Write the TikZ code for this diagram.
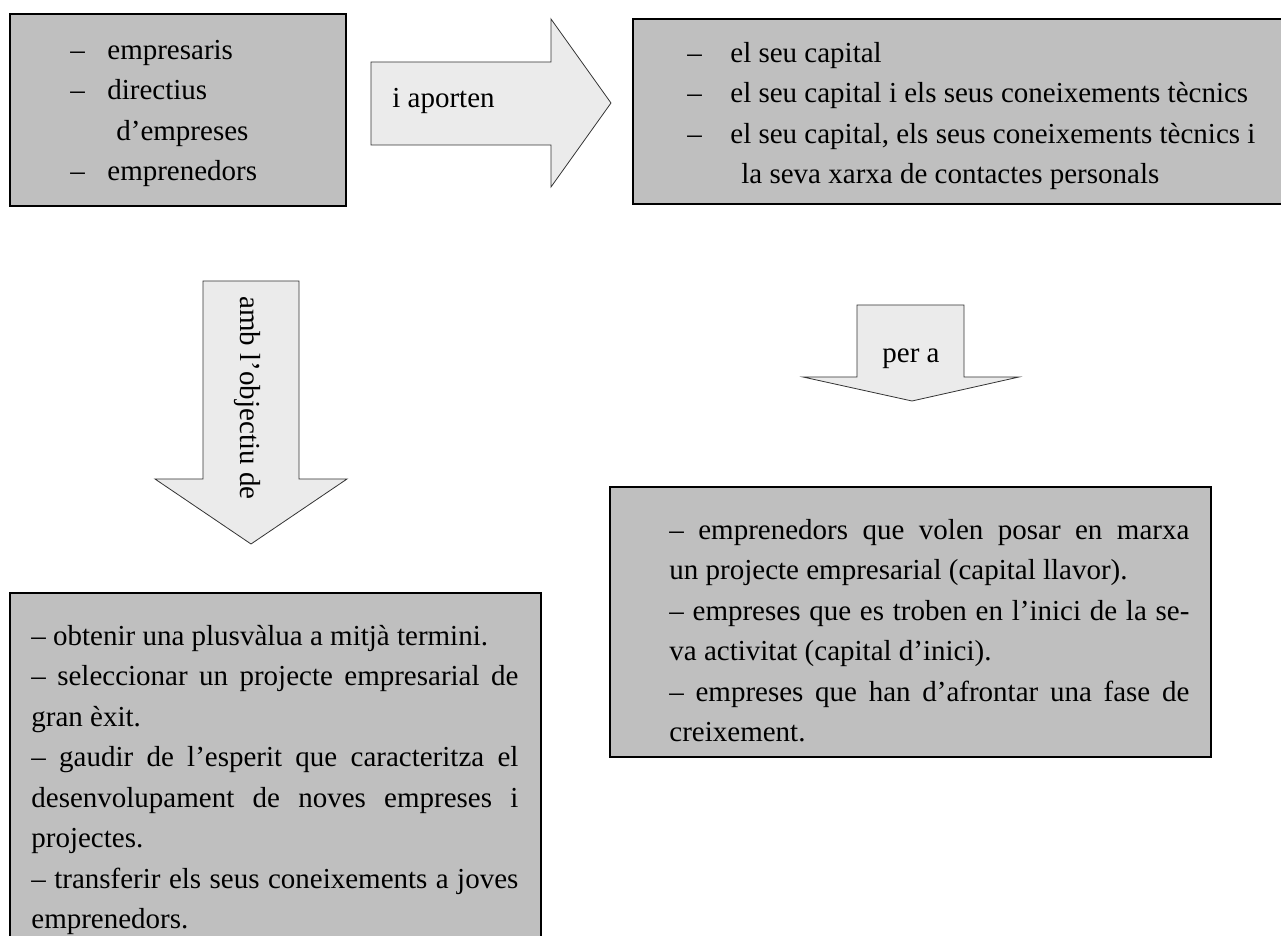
\documentclass[tikz,border=0pt]{standalone}
\usepackage{fontspec}
\setmainfont{Liberation Serif}
\tikzset{
  greybox/.style={draw=black, line width=0.7pt, fill=black!25},
  blockarrow/.style={draw=black!80, line width=0.4pt, fill=black!8},
  boxtext/.style={inner sep=0pt, anchor=north west,
    font={\fontsize{14.5}{20.25}\selectfont\parindent=0pt\tolerance=10000\hyphenpenalty=10000}},
  arrowtext/.style={inner sep=0pt, font=\fontsize{14.5}{20.25}\selectfont}
}
\newcommand{\dashitem}[1]{\makebox[#1][l]{–}}
\begin{document}
\begin{tikzpicture}[x=0.5pt, y=-0.5pt]
      \useasboundingbox (0,0) rectangle (1281,936);
      \clip (0,0) rectangle (1281,936);

      % grey boxes
      \draw[greybox] (10,14) rectangle (346,206);
      \draw[greybox] (633,19) rectangle (1290,204);
      \draw[greybox] (10,593) rectangle (541,950);
      \draw[greybox] (610,487) rectangle (1211,757);

      % block arrows
      \draw[blockarrow] (371,62) -- (551,62) -- (551,19) -- (611,103) -- (551,187) -- (551,145) -- (371,145) -- cycle;
      \draw[blockarrow] (203,281) -- (299,281) -- (299,479) -- (347,479) -- (251,544) -- (155,479) -- (203,479) -- cycle;
      \draw[blockarrow] (857,305) -- (964,305) -- (964,377) -- (1019,377) -- (912,401) -- (803,377) -- (857,377) -- cycle;

      \node[arrowtext, anchor=mid west] (aporten) at (392,103) {i aporten};
      \node[arrowtext, anchor=mid, rotate=-90] (objectiu) at (245,398) {amb l’objectiu de};
      \node[arrowtext, anchor=mid] (pera) at (911,358) {per a};

      % box texts
      \node[boxtext, align=left] (qui) at (70,30.7) {\strut\dashitem{18.5pt}empresaris\\
        \dashitem{18.5pt}directius\\
        \hspace*{23pt}d’empreses\\
        \dashitem{18.5pt}emprenedors};
      \node[boxtext, align=left] (aporta) at (687,33.6) {\strut\dashitem{21.5pt}el seu capital\\
        \dashitem{21.5pt}el seu capital i els seus coneixements tècnics\\
        \dashitem{21.5pt}el seu capital, els seus coneixements tècnics i\\
        \hspace*{27pt}la seva xarxa de contactes personals};
      \node[boxtext, text width=243.5pt, align=justify] (objectius) at (31,616.6) {\strut– obtenir una plusvàlua a mitjà termini.\par
        – seleccionar un projecte empresarial de\linebreak gran èxit.\par
        – gaudir de l’esperit que caracteritza el\linebreak desenvolupament de noves empreses i\linebreak projectes.\par
        – transferir els seus coneixements a joves\linebreak emprenedors.};
      \node[boxtext, text width=260pt, align=justify] (destins) at (669,510.6) {\strut– emprenedors que volen posar en marxa\linebreak un projecte empresarial (capital llavor).\par
        – empreses que es troben en l’inici de la se-\linebreak va activitat (capital d’inici).\par
        – empreses que han d’afrontar una fase de\linebreak creixement.};
\end{tikzpicture}
\end{document}
